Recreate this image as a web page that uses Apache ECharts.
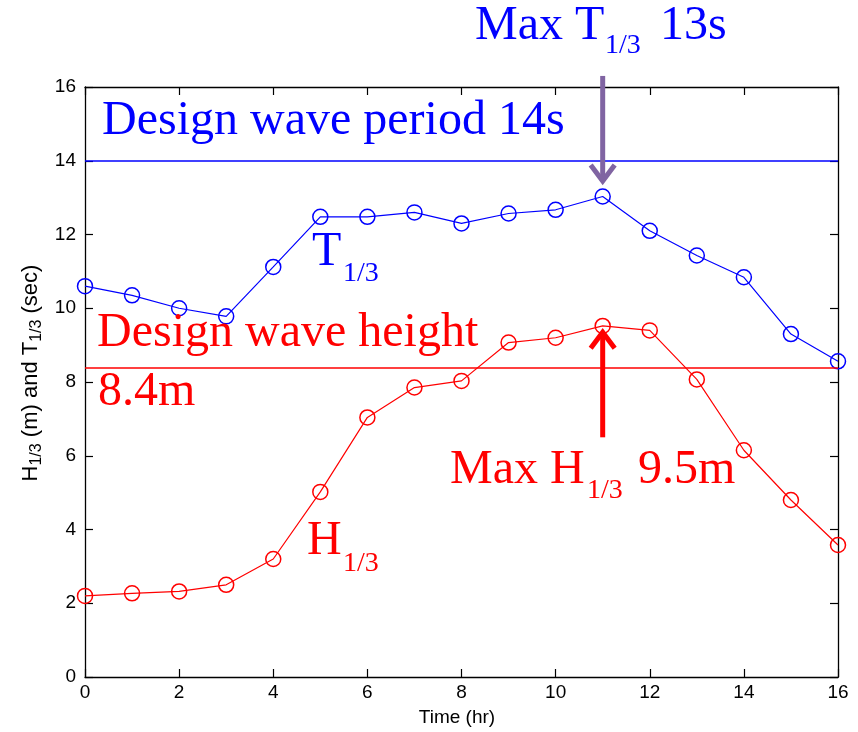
<!DOCTYPE html>
<html>
<head>
<meta charset="utf-8">
<script src="https://cdn.jsdelivr.net/npm/echarts@6/dist/echarts.min.js"></script>
<style>html,body{margin:0;padding:0;background:#fff}#c{width:858px;height:732px}</style>
</head>
<body>
<div id="c"></div>
<script>
// ---- data ----
var hours = [0,1,2,3,4,5,6,7,8,9,10,11,12,13,14,15,16];
var tOneThird = [10.6,10.35,10.0,9.78,11.12,12.48,12.48,12.6,12.3,12.57,12.67,13.03,12.1,11.43,10.84,9.3,8.56];
var hOneThird = [2.2,2.27,2.32,2.5,3.2,5.02,7.04,7.85,8.03,9.07,9.2,9.52,9.4,8.07,6.15,4.8,3.58];
var designPeriod = 14;
var designHeight = 8.4;
var xTicks = {min:0, max:16, interval:2};
var yTicks = {min:0, max:16, interval:2};
// arrows in data coordinates: [x, fromY, toY]
var arrowT = [11, 16.3, 13.45];
var arrowH = [11, 6.5, 9.35];

var BLUE = '#0000ff', RED = '#ff0000', PURPLE = '#8064a2';
var SERIF = '"Liberation Serif","Times New Roman",serif';
var SANS = '"Liberation Sans",Arial,Helvetica,sans-serif';

function pairs(xs, ys){ return xs.map(function(x,i){ return [x, ys[i]]; }); }

var chart = echarts.init(document.getElementById('c'), null, {renderer:'canvas'});

var axisCommon = {
  type:'value',
  axisLine:{show:true, onZero:false, lineStyle:{color:'#000', width:1.3}},
  axisTick:{show:true, inside:true, length:8, lineStyle:{color:'#000', width:1.2}},
  splitLine:{show:false},
  axisLabel:{color:'#000', fontFamily:SANS, fontSize:19}
};

function lineSeries(name, data, color, markVal){
  return {
    name:name, type:'line', data:data, xAxisIndex:0, yAxisIndex:0,
    symbol:'circle', symbolSize:15, showSymbol:true,
    lineStyle:{color:color, width:1.2},
    itemStyle:{color:'rgba(0,0,0,0)', borderColor:color, borderWidth:1.5},
    emphasis:{disabled:true}, silent:true, z:3,
    markLine:{
      silent:true, symbol:['none','none'], label:{show:false},
      lineStyle:{color:color, width:1.5, type:'solid'},
      emphasis:{disabled:true},
      data:[{yAxis:markVal}]
    }
  };
}

var option = {
  animation:false,
  backgroundColor:'#fff',
  grid:{left:85, right:20, top:87, bottom:55},
  xAxis:[
    Object.assign({}, axisCommon, {position:'bottom', min:xTicks.min, max:xTicks.max, interval:xTicks.interval,
      axisLabel:Object.assign({}, axisCommon.axisLabel, {margin:6})}),
    Object.assign({}, axisCommon, {position:'top', min:xTicks.min, max:xTicks.max, interval:xTicks.interval,
      axisLabel:{show:false}})
  ],
  yAxis:[
    Object.assign({}, axisCommon, {position:'left', min:yTicks.min, max:yTicks.max, interval:yTicks.interval,
      axisLabel:Object.assign({}, axisCommon.axisLabel, {margin:9})}),
    Object.assign({}, axisCommon, {position:'right', min:yTicks.min, max:yTicks.max, interval:yTicks.interval,
      axisLabel:{show:false}})
  ],
  series:[
    lineSeries('T1/3', pairs(hours, tOneThird), BLUE, designPeriod),
    lineSeries('H1/3', pairs(hours, hOneThird), RED, designHeight)
  ]
};
chart.setOption(option);

// ---- annotations ----
function txt(str, x, baseline, fs, color){
  return {type:'text', x:x, y:baseline - 0.3375*fs, z:10, silent:true,
    style:{text:str, fill:color, font:fs+'px '+SERIF, verticalAlign:'middle', align:'left'}};
}
function arrow(a, color){
  var p1 = chart.convertToPixel({xAxisIndex:0, yAxisIndex:0}, [a[0], a[1]]);
  var p2 = chart.convertToPixel({xAxisIndex:0, yAxisIndex:0}, [a[0], a[2]]);
  var dir = p2[1] > p1[1] ? 1 : -1;
  var hw = 12, hh = 16;
  return [
    {type:'line', z:9, silent:true, shape:{x1:p1[0], y1:p1[1], x2:p2[0], y2:p2[1] - dir*2},
      style:{stroke:color, lineWidth:5}},
    {type:'polyline', z:9, silent:true,
      shape:{points:[[p2[0]-hw, p2[1]-dir*hh],[p2[0], p2[1]],[p2[0]+hw, p2[1]-dir*hh]]},
      style:{stroke:color, lineWidth:5, fill:null, lineJoin:'miter', lineCap:'butt'}}
  ];
}

var graphics = [
  txt('Design wave period 14s', 102, 138, 48, BLUE),
  txt('Max T', 475, 43, 48, BLUE), txt('1/3', 605, 55, 28, BLUE), txt('13s', 660, 43, 48, BLUE),
  txt('T', 312, 269, 48, BLUE), txt('1/3', 343, 283, 28, BLUE),
  txt('Design wave height', 97, 350, 48, RED),
  txt('8.4m', 98, 409, 48, RED),
  txt('Max H', 450, 487, 48, RED), txt('1/3', 587, 500, 28, RED), txt('9.5m', 638, 487, 48, RED),
  txt('H', 307, 558, 48, RED), txt('1/3', 343, 573, 28, RED),
  {type:'text', x:457, y:718, z:10, silent:true,
    style:{text:'Time (hr)', fill:'#000', font:'19px '+SANS, align:'center', verticalAlign:'middle'}},
  {type:'text', x:32, y:373, rotation:Math.PI/2, z:10, silent:true,
    style:{text:'{n|H}{s|1/3}{n| (m) and T}{s|1/3}{n| (sec)}', align:'center', verticalAlign:'middle', fill:'#000',
      rich:{
        n:{fontSize:22, fontFamily:SANS, fill:'#000', lineHeight:25, verticalAlign:'top'},
        s:{fontSize:16, fontFamily:SANS, fill:'#000', lineHeight:16, verticalAlign:'bottom', padding:[15,0,0,0]}
      }}}
].concat(arrow(arrowT, PURPLE), arrow(arrowH, RED));

chart.setOption({graphic:{elements:graphics}});
</script>
</body>
</html>
